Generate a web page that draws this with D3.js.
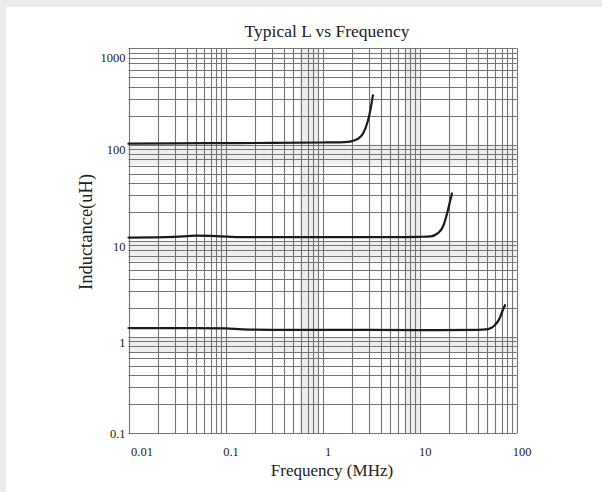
<!DOCTYPE html>
<html>
<head>
<meta charset="utf-8">
<script src="https://cdn.jsdelivr.net/npm/d3@7"></script>
<style>
  html, body { margin: 0; padding: 0; background: #ececec; }
  svg { display: block; }
  text { font-family: "Liberation Serif", "Times New Roman", serif; fill: #222; }
</style>
</head>
<body>
<svg id="chart" width="602" height="492"></svg>
<script>
// ---- data ----
const chartTitle = "Typical L vs Frequency";
const xTitle = "Frequency (MHz)";
const yTitle = "Inductance(uH)";

const xTickValues = [0.01, 0.1, 1, 10, 100];
const xTickLabels = ["0.01", "0.1", "1", "10", "100"];
const yTickValues = [0.1, 1, 10, 100, 1000];
const yTickLabels = ["0.1", "1", "10", "100", "1000"];

// curve 1 (~100 uH)
const freqA = [0.01, 0.03, 0.1, 0.3, 1, 1.5, 1.83, 2.1, 2.32, 2.61, 2.94, 3.15, 3.3];
const indA  = [102, 103, 103.5, 104, 105, 105.5, 106.5, 110, 115, 130, 179, 245, 325];
// curve 2 (~11 uH)
const freqB = [0.01, 0.03, 0.05, 0.08, 0.15, 0.3, 1, 5, 10, 13, 15.4, 17.3, 18.75, 20.3, 21.5];
const indB  = [10.8, 11.0, 11.3, 11.2, 10.9, 10.9, 10.9, 10.9, 11.0, 11.1, 12.0, 13.9, 17.7, 24.4, 30.9];
// curve 3 (~1.2 uH)
const freqC = [0.01, 0.05, 0.1, 0.15, 0.3, 1, 10, 40, 48, 55, 59, 66.4, 71.8, 75.8];
const indC  = [1.24, 1.24, 1.23, 1.2, 1.19, 1.19, 1.18, 1.19, 1.2, 1.25, 1.32, 1.55, 1.9, 2.14];

// light shaded bands visible in the scanned chart
const vBands = [[0.58, 0.92], [7, 10]];
const hBands = [[100, 62], [10, 6.2], [1, 0.7]];

// ---- drawing ----
const svg = d3.select("#chart");
const W = 602, H = 492;
const m = { left: 128.5, right: 602 - 516.7, top: 48.3, bottom: 492 - 433.3 };

svg.append("rect").attr("x", 6).attr("y", 7).attr("width", W - 6).attr("height", H - 7).attr("fill", "#ffffff");

const x = d3.scaleLog().domain([0.01, 100]).range([m.left, W - m.right]);
const y = d3.scaleLog().domain([0.1, 1000]).range([H - m.bottom, m.top]);

const g = svg.append("g");

// shading bands
g.selectAll("rect.vb").data(vBands).join("rect")
  .attr("x", d => x(d[0])).attr("width", d => x(d[1]) - x(d[0]))
  .attr("y", y(1000)).attr("height", y(0.1) - y(1000))
  .attr("fill", "#eeeeee");
g.selectAll("rect.hb").data(hBands).join("rect")
  .attr("x", x(0.01)).attr("width", x(100) - x(0.01))
  .attr("y", d => y(d[0])).attr("height", d => y(d[1]) - y(d[0]))
  .attr("fill", "#eeeeee");

// grid values
function logGrid(lo, hi) {
  const out = [];
  for (let p = lo; p < hi; p++) {
    for (let k = 1; k <= 9; k++) out.push(k * Math.pow(10, p));
  }
  out.push(Math.pow(10, hi));
  return out;
}
const xGrid = logGrid(-2, 2);
const yGrid = logGrid(-1, 3);

g.selectAll("line.vg").data(xGrid).join("line")
  .attr("x1", d => Math.round(x(d)) + 0.5).attr("x2", d => Math.round(x(d)) + 0.5)
  .attr("y1", y(1000)).attr("y2", y(0.1))
  .attr("stroke", "#747474").attr("stroke-width", 1.1);
g.selectAll("line.hg").data(yGrid).join("line")
  .attr("y1", d => Math.round(y(d)) + 0.5).attr("y2", d => Math.round(y(d)) + 0.5)
  .attr("x1", x(0.01)).attr("x2", x(100))
  .attr("stroke", "#747474").attr("stroke-width", 1.1);

// axes with labels only (no domain/ticks lines)
const xAxis = d3.axisBottom(x).tickValues(xTickValues).tickFormat((d, i) => xTickLabels[i]).tickSize(0).tickPadding(14);
const yAxis = d3.axisLeft(y).tickValues(yTickValues).tickFormat((d, i) => yTickLabels[i]).tickSize(0).tickPadding(3);

const gx = svg.append("g").attr("transform", `translate(0,${H - m.bottom})`).call(xAxis);
gx.select(".domain").remove();
gx.selectAll("text").attr("font-size", 12.5).attr("font-family", "Liberation Serif").attr("fill", "#1e1e1e")
  .attr("dx", (d, i) => i === 0 ? 13 : 5);

const gy = svg.append("g").attr("transform", `translate(${m.left},0)`).call(yAxis);
gy.select(".domain").remove();
gy.selectAll("text").attr("font-size", 12.5).attr("font-family", "Liberation Serif").attr("fill", "#1e1e1e")
  .attr("dy", (d, i) => i === 0 ? "0.32em" : (i === 4 ? "1.05em" : "0.75em"));

// curves
const series = [
  { f: freqA, L: indA },
  { f: freqB, L: indB },
  { f: freqC, L: indC }
];
const line = d3.line().x(d => x(d[0])).y(d => y(d[1])).curve(d3.curveMonotoneX);
svg.append("g").selectAll("path").data(series).join("path")
  .attr("d", s => line(s.f.map((f, i) => [f, s.L[i]])))
  .attr("fill", "none").attr("stroke", "#1a1a1a").attr("stroke-width", 2.2)
  .attr("stroke-linejoin", "round").attr("stroke-linecap", "round");

// titles
svg.append("text").attr("x", 327).attr("y", 37).attr("text-anchor", "middle")
  .attr("font-size", 17.5).attr("fill", "#1e1e1e").text(chartTitle);
svg.append("text").attr("x", 332).attr("y", 476).attr("text-anchor", "middle")
  .attr("font-size", 17).attr("fill", "#1e1e1e").text(xTitle);
svg.append("text").attr("transform", "translate(92,232) rotate(-90)").attr("text-anchor", "middle")
  .attr("font-size", 18.5).attr("fill", "#1e1e1e").text(yTitle);
</script>
</body>
</html>
